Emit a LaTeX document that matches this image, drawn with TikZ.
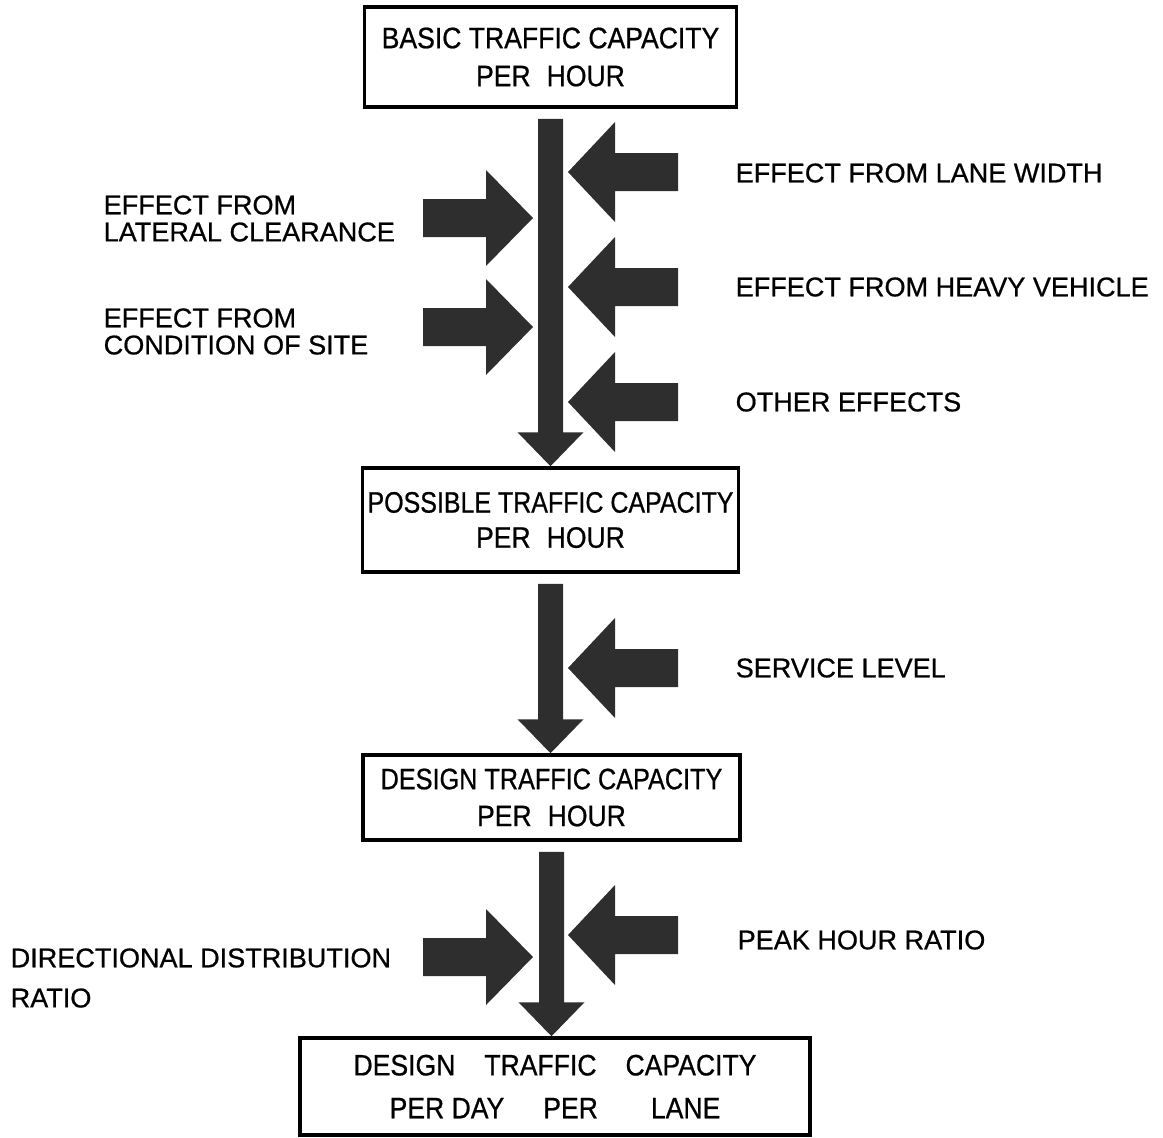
\documentclass[tikz,border=0pt]{standalone}
\usepackage{fontspec}
\usepackage{graphicx}
\setmainfont{Liberation Sans}[FakeBold=0.7,AutoFakeBold=0.7]
\newfontfamily\boxfont{Liberation Sans}[FakeStretch=0.9,AutoFakeBold=0.7]
\newfontfamily\lblfont{Liberation Sans}[FakeStretch=1.0,AutoFakeBold=0.7]
\usetikzlibrary{calc}

\tikzset{
    box/.style={draw, line width=1pt, align=center, inner sep=0pt,
        font=\boxfont\bfseries\fontsize{8.4}{8.4}\selectfont},
    blockfill/.style={fill=black!82},
    lbl/.style={anchor=west, align=left, inner sep=0pt},
}

\begin{document}
\begin{tikzpicture}[font=\lblfont\bfseries\fontsize{7.7}{7.7}\selectfont]
    \useasboundingbox (0, 0) rectangle (11.63, -11.37);

    % capacity boxes
    \node[box, minimum width=3.72cm, minimum height=1.0cm] (basic) at (5.505, -0.57)
        {BASIC TRAFFIC CAPACITY\\[2.4pt]PER\hspace{1.6mm}HOUR};
    \node[box, minimum width=3.76cm, minimum height=1.04cm] (possible) at (5.505, -5.20)
        {\scalebox{0.94}[1]{POSSIBLE TRAFFIC CAPACITY}\\[1.6pt]PER\hspace{1.6mm}HOUR};
    \node[box, minimum width=3.77cm, minimum height=0.85cm] (designhr) at (5.515, -7.975)
        {\scalebox{0.95}[1]{DESIGN TRAFFIC CAPACITY}\\[2.1pt]PER\hspace{1.6mm}HOUR};
    \node[box, minimum width=5.10cm, minimum height=0.97cm] (designday) at (5.55, -10.865)
        {DESIGN\hspace{2.9mm}TRAFFIC\hspace{2.9mm}CAPACITY\\[3.8pt]PER DAY\hspace{3.9mm}PER\hspace{5.3mm}LANE};

    % main flow
    \foreach \a/\b in {basic/possible, possible/designhr, designhr/designday}
        \fill[blockfill] let \p1 = (\a.south), \p2 = (\b.north) in
            (\x1-1.25mm, \y1-1mm) -- (\x1+1.25mm, \y1-1mm) -- (\x1+1.25mm, \y2+3.4mm)
            -- (\x1+3.3mm, \y2+3.4mm) -- (\x1, \y2) -- (\x1-3.3mm, \y2+3.4mm)
            -- (\x1-1.25mm, \y2+3.4mm) -- cycle;

    % effects from the right
    \foreach \y in {-1.72, -2.87, -4.02, -6.68, -9.35} {
        \fill[blockfill] (5.68, \y) -- (6.15, \y+0.5) -- (6.15, \y+0.19) -- (6.78, \y+0.19)
            -- (6.78, \y-0.19) -- (6.15, \y-0.19) -- (6.15, \y-0.5) -- cycle;
    }
    % effects from the left
    \foreach \y in {-2.18, -3.27, -9.57} {
        \fill[blockfill] (5.33, \y) -- (4.86, \y+0.48) -- (4.86, \y+0.19) -- (4.23, \y+0.19)
            -- (4.23, \y-0.19) -- (4.86, \y-0.19) -- (4.86, \y-0.48) -- cycle;
    }

    % labels
    \node[lbl] (lane) at (7.35, -1.73) {EFFECT FROM LANE WIDTH};
    \node[lbl] (heavy) at (7.35, -2.87) {EFFECT FROM HEAVY VEHICLE};
    \node[lbl] (other) at (7.35, -4.02) {OTHER EFFECTS};
    \node[lbl] (service) at (7.35, -6.68) {SERVICE LEVEL};
    \node[lbl] (peak) at (7.37, -9.40) {PEAK HOUR RATIO};
    \node[lbl] (lateral) at (1.03, -2.185) {EFFECT FROM\\LATERAL CLEARANCE};
    \node[lbl] (site) at (1.03, -3.315) {EFFECT FROM\\CONDITION OF SITE};
    \node[lbl] (direction) at (0.10, -9.78) {DIRECTIONAL DISTRIBUTION\\[3.7pt]RATIO};
\end{tikzpicture}
\end{document}
